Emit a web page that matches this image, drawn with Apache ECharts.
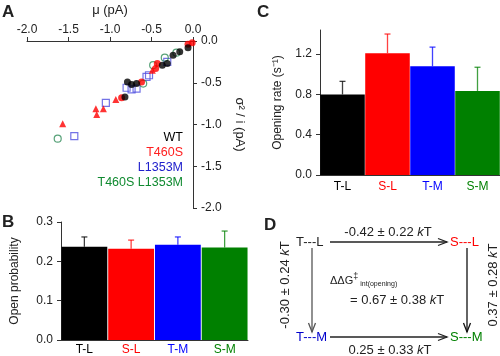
<!DOCTYPE html>
<html><head><meta charset="utf-8">
<script src="https://cdn.jsdelivr.net/npm/echarts@6/dist/echarts.min.js"></script>
<style>html,body{margin:0;padding:0;background:#fff}#c{width:500px;height:356px}</style>
</head><body><div id="c"></div>
<script>
// ---- Panel A data: mean current (mu, pA) vs variance/current (pA)
const wtMu   = [-0.06,-0.16,-0.24,-0.31,-0.37,-0.79,-0.74,-0.68,-0.82];
const wtVar  = [-0.08,-0.13,-0.17,-0.27,-0.29,-0.49,-0.52,-0.51,-0.67];
const tsCircMu  = [-0.01,-0.06,-0.43,-0.45,-0.62,-0.86];
const tsCircVar = [-0.02,-0.04,-0.27,-0.33,-0.49,-0.68];
const tsTriMu   = [-0.49,-0.93,-1.08,-1.17,-1.16,-1.57];
const tsTriVar  = [-0.35,-0.70,-0.81,-0.81,-0.88,-0.99];
const lmMu  = [-0.31,-0.53,-0.56,-0.80,-0.74,-0.68,-1.05,-1.43];
const lmVar = [-0.25,-0.41,-0.43,-0.56,-0.58,-0.57,-0.74,-1.14];
const dmMu  = [-0.20,-0.34,-0.48,-0.60,-1.63];
const dmVar = [-0.14,-0.20,-0.29,-0.51,-1.17];
const legendNames = ['WT','T460S','L1353M','T460S L1353M'];

// ---- Panels B & C
const categories = ['T-L','S-L','T-M','S-M'];
const catColors = ['#000000','#ff0000','#0000ff','#008000'];
const openProb = [0.237,0.232,0.242,0.235];
const openProbErr = [0.025,0.022,0.020,0.042];
const openRate = [0.80,1.21,1.08,0.835];
const openRateErr = [0.13,0.19,0.19,0.235];

// ---- Panel D texts
const dTop = '-0.42 ± 0.22 ';
const dLeft = '-0.30 ± 0.24 ';
const dRight = '0.37 ± 0.28 ';
const dBottom = '0.25 ± 0.33 ';
const dCenter = '= 0.67 ± 0.38 ';

const FONT = '"Liberation Sans", Arial, sans-serif';
const AX = '#333';

const chart = echarts.init(document.getElementById('c'), null, {renderer:'canvas'});
const zip = (a,b)=>a.map((v,i)=>[v,b[i]]);

function errSeries(xi, yi, vals, errs){
  return {
    type:'custom', xAxisIndex:xi, yAxisIndex:yi, z:1,
    data: vals.map((v,i)=>[i, v, v+errs[i]]),
    renderItem(params, api){
      const i = api.value(0);
      const p0 = api.coord([i, api.value(1)]);
      const p1 = api.coord([i, api.value(2)]);
      const c = catColors[i];
      return {type:'group', children:[
        {type:'line', shape:{x1:p0[0],y1:p0[1],x2:p1[0],y2:p1[1]}, style:{stroke:c,lineWidth:1.3,opacity:0.75}},
        {type:'line', shape:{x1:p1[0]-3,y1:p1[1],x2:p1[0]+3,y2:p1[1]}, style:{stroke:c,lineWidth:1.3,opacity:0.75}}
      ]};
    }
  };
}

const catLabelColor = (v, i) => catColors[i];

const option = {
  animation:false,
  textStyle:{fontFamily:FONT},
  grid:[
    {left:27, right:307, top:41, bottom:148},
    {left:61, right:252, top:222, bottom:15},
    {left:320, right:0, top:30, bottom:181}
  ],
  xAxis:[
    {gridIndex:0, type:'value', position:'top', min:-2, max:0, interval:0.5,
     name:'μ (pA)', nameLocation:'middle', nameGap:24, nameTextStyle:{fontSize:13,color:'#222'},
     axisLine:{lineStyle:{color:AX}}, axisTick:{length:4,lineStyle:{color:AX}}, splitLine:{show:false},
     axisLabel:{fontSize:12,color:'#222',margin:5,formatter:v=>v.toFixed(1)}},
    {gridIndex:1, type:'category', data:categories,
     axisLine:{lineStyle:{color:AX}}, axisTick:{show:false},
     axisLabel:{fontSize:12,margin:4,color:catLabelColor}},
    {gridIndex:2, type:'category', data:categories,
     axisLine:{lineStyle:{color:AX}}, axisTick:{show:false},
     axisLabel:{fontSize:12,margin:6,color:catLabelColor}}
  ],
  yAxis:[
    {gridIndex:0, type:'value', position:'right', min:-2, max:0, interval:0.5,
     name:'σ² / i (pA)', nameLocation:'middle', nameGap:40, nameRotate:-90, nameTextStyle:{fontSize:13,color:'#222'},
     axisLine:{show:true,lineStyle:{color:AX}}, axisTick:{show:true,length:4,lineStyle:{color:AX}}, splitLine:{show:false},
     axisLabel:{fontSize:12,color:'#222',margin:8,formatter:v=>v.toFixed(1)}},
    {gridIndex:1, type:'value', min:0, max:0.3, interval:0.1,
     name:'Open probability', nameLocation:'middle', nameGap:40, nameTextStyle:{fontSize:12,color:'#222'},
     axisLine:{show:true,lineStyle:{color:AX}}, axisTick:{show:true,length:4,lineStyle:{color:AX}}, splitLine:{show:false},
     axisLabel:{fontSize:12,color:'#222',margin:8,formatter:v=>v.toFixed(1)}},
    {gridIndex:2, type:'value', min:0, max:1.44, interval:0.4,
     name:'Opening rate (s⁻¹)', nameLocation:'middle', nameGap:36, nameTextStyle:{fontSize:12,color:'#222'},
     axisLine:{show:true,lineStyle:{color:AX}}, axisTick:{show:true,length:4,lineStyle:{color:AX}}, splitLine:{show:false},
     axisLabel:{fontSize:12,color:'#222',margin:8,showMaxLabel:false,formatter:v=>v.toFixed(1)}}
  ],
  series:[
    {type:'scatter', name:'WT', xAxisIndex:0, yAxisIndex:0, data:zip(wtMu,wtVar), symbol:'circle', symbolSize:7, itemStyle:{color:'#000'}, z:5},
    {type:'scatter', name:'T460S', xAxisIndex:0, yAxisIndex:0, data:zip(tsCircMu,tsCircVar), symbol:'circle', symbolSize:7, itemStyle:{color:'#ff0000'}, z:4},
    {type:'scatter', name:'T460S', xAxisIndex:0, yAxisIndex:0, data:zip(tsTriMu,tsTriVar), symbol:'triangle', symbolSize:7, itemStyle:{color:'#ff0000'}, z:4},
    {type:'scatter', name:'L1353M', xAxisIndex:0, yAxisIndex:0, data:zip(lmMu,lmVar), symbol:'rect', symbolSize:7, itemStyle:{color:'rgba(0,0,0,0)',borderColor:'#5050e0',borderWidth:1.2}, z:3},
    {type:'scatter', name:'T460S L1353M', xAxisIndex:0, yAxisIndex:0, data:zip(dmMu,dmVar), symbol:'circle', symbolSize:7, itemStyle:{color:'rgba(0,0,0,0)',borderColor:'#2e8b57',borderWidth:1.2}, z:3},
    {type:'bar', xAxisIndex:1, yAxisIndex:1, data:openProb.map((v,i)=>({value:v,itemStyle:{color:catColors[i]}})), barCategoryGap:'2%', z:2},
    errSeries(1,1,openProb,openProbErr),
    {type:'bar', xAxisIndex:2, yAxisIndex:2, data:openRate.map((v,i)=>({value:v,itemStyle:{color:catColors[i]}})), barCategoryGap:'1%', z:2},
    errSeries(2,2,openRate,openRateErr)
  ],
  graphic:[]
};

const G = option.graphic;
const txt = (x,y,text,opts={}) => G.push({type:'text', x, y, rotation:opts.rot||0, z:10,
  style:{text, fill:opts.color||'#222', font:(opts.weight||'normal')+' '+(opts.size||13)+'px '+FONT,
    align:opts.align||'left', verticalAlign:opts.va||'middle'}});
// panel letters
txt(2,12,'A',{weight:'bold',size:17});
txt(2,222,'B',{weight:'bold',size:17});
txt(257,12,'C',{weight:'bold',size:17});
txt(264,225,'D',{weight:'bold',size:17});
// legend panel A
const legendColors = ['#000000','#ff2020','#2020cc','#108a30'];
legendNames.forEach((n,i)=>txt(183,138+i*14.8,n,{align:'right',color:legendColors[i],size:12.5}));

// panel D
const kT = {k:{font:'italic 13px '+FONT, fill:'#222'}};
const line = (x1,y1,x2,y2,c) => G.push({type:'line', shape:{x1,y1,x2,y2}, style:{stroke:c,lineWidth:1.3}, z:10});
const headH = (x,y,c) => G.push({type:'polyline', shape:{points:[[x-9,y-3.5],[x,y],[x-9,y+3.5]]}, style:{stroke:c,lineWidth:1.3,fill:null}, z:10});
const headV = (x,y,c) => G.push({type:'polyline', shape:{points:[[x-3.5,y-9],[x,y],[x+3.5,y-9]]}, style:{stroke:c,lineWidth:1.3,fill:null}, z:10});
txt(296,242,'T---L',{color:'#222'});
txt(450,242,'S---L',{color:'#ff0000'});
txt(296,337,'T---M',{color:'#0000cc'});
txt(450,337,'S---M',{color:'#008000'});
line(330,242,447,242,'#222'); headH(447,242,'#222');
line(330,337,447,337,'#222'); headH(447,337,'#222');
line(312,248,312,332,'#555'); headV(312,332,'#555');
line(467,248,467,332,'#111'); headV(467,332,'#111');
G.push({type:'text', x:388, y:232, z:10, style:{text:dTop+'{k|k}T', font:'13px '+FONT, fill:'#222', align:'center', verticalAlign:'middle', rich:kT}});
G.push({type:'text', x:390, y:350, z:10, style:{text:dBottom+'{k|k}T', font:'13px '+FONT, fill:'#222', align:'center', verticalAlign:'middle', rich:kT}});
G.push({type:'text', x:285, y:285, rotation:Math.PI/2, z:10, style:{text:dLeft+'{k|k}T', font:'13px '+FONT, fill:'#222', align:'center', verticalAlign:'middle', rich:kT}});
G.push({type:'text', x:493, y:285, rotation:Math.PI/2, z:10, style:{text:dRight+'{k|k}T', font:'13px '+FONT, fill:'#222', align:'center', verticalAlign:'middle', rich:kT}});
G.push({type:'text', x:330, y:281, z:10, style:{text:'ΔΔG{s|‡}{sub|int(opening)}', font:'11px '+FONT, fill:'#222', align:'left', verticalAlign:'middle',
  rich:{s:{font:'9px '+FONT, fill:'#222', verticalAlign:'top', padding:[0,0,8,0]}, sub:{font:'7px '+FONT, fill:'#222', padding:[6,0,0,2]}}}});
G.push({type:'text', x:350, y:300, z:10, style:{text:dCenter+'{k|k}T', font:'13px '+FONT, fill:'#222', align:'left', verticalAlign:'middle', rich:kT}});

chart.setOption(option);
</script></body></html>
